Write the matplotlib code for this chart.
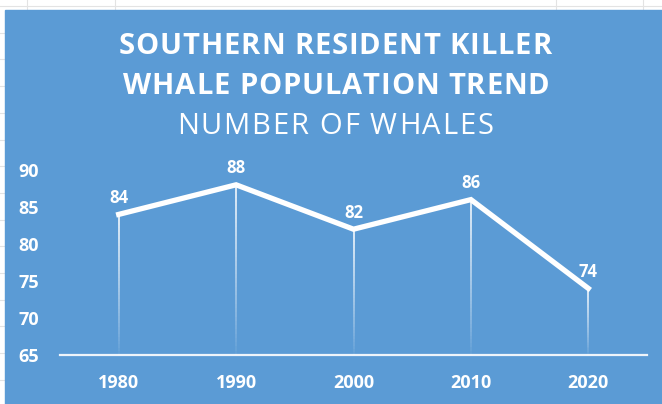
import matplotlib.pyplot as plt
import matplotlib.patches as patches
from matplotlib.lines import Line2D
from matplotlib.font_manager import FontProperties, findfont, get_font
import numpy as np

years = ["1980", "1990", "2000", "2010", "2020"]
whales = [84, 88, 82, 86, 74]
y_ticks = [65, 70, 75, 80, 85, 90]

BLUE = "#5B9BD5"
W, H = 662, 404
DPI = 100

plt.rcParams['font.family'] = ['Open Sans', 'DejaVu Sans']


def spaced_text(fig, s, cx, cy, size, weight, tracking):
    # draw text char by char so the letters can be spread out
    prop = FontProperties(family="Open Sans", weight=weight, size=size)
    font = get_font(findfont(prop))
    font.set_size(size, DPI)
    adv = [font.load_char(ord(c)).linearHoriAdvance / 65536 for c in s]
    total = sum(adv) + tracking * (len(s) - 1)
    xpos = cx - total / 2
    for c, a in zip(s, adv):
        fig.text(xpos / W, 1 - cy / H, c, ha="left", va="center", color="white",
                 fontproperties=prop)
        xpos += a + tracking


fig = plt.figure(figsize=(W / DPI, H / DPI), dpi=DPI)
fig.patch.set_facecolor("white")

# faint spreadsheet gridlines behind the chart
for yy in np.arange(6, H, 26.7):
    fig.add_artist(Line2D([0, 1], [1 - yy / H] * 2, color="#E3E3E3", lw=0.8, zorder=0))
for xx in [27, 115, 556, 643]:
    fig.add_artist(Line2D([xx / W] * 2, [0, 1], color="#E3E3E3", lw=0.8, zorder=0))

# blue chart area
fig.add_artist(patches.Rectangle((5 / W, 0), 1, (H - 10) / H,
                                 transform=fig.transFigure, color=BLUE, zorder=1))

ax = fig.add_axes([60 / W, 49 / H, 587 / W, 185 / H])
ax.set_facecolor("none")
ax.set_zorder(2)

x = np.arange(len(years))

# fading drop lines
n = 40
for xi, v in zip(x, whales):
    edges = np.linspace(v, 65, n + 1)
    for k in range(n):
        a = 0.95 * (1 - k / n) ** 0.8
        ax.plot([xi, xi], [edges[k], edges[k + 1]], color="white", lw=1.2,
                alpha=a, solid_capstyle="butt", zorder=2)

ax.plot(x, whales, color="white", lw=3.8, solid_joinstyle="miter", zorder=3)

for xi, v in zip(x, whales):
    ax.annotate(str(v), (xi, v), xytext=(0, 12), textcoords="offset points",
                ha="center", va="center", color="white", fontsize=12,
                fontweight="bold")

ax.set_xlim(-0.5, len(years) - 0.5)
ax.set_ylim(65, 90)
ax.set_yticks(y_ticks)
ax.set_xticks(x)
ax.set_xticklabels(years)
for s in ["top", "right", "left"]:
    ax.spines[s].set_visible(False)
ax.spines["bottom"].set_color("white")
ax.spines["bottom"].set_linewidth(1.6)
ax.spines["bottom"].set_alpha(0.9)
ax.tick_params(length=0, colors="white", labelsize=13)
ax.tick_params(axis="x", pad=14)
ax.tick_params(axis="y", pad=30)
for lab in ax.get_xticklabels() + ax.get_yticklabels():
    lab.set_fontweight("bold")
for lab in ax.get_yticklabels():
    lab.set_horizontalalignment("left")

spaced_text(fig, "SOUTHERN RESIDENT KILLER", 335, 46, 21, "bold", 0.9)
spaced_text(fig, "WHALE POPULATION TREND", 336, 86, 21, "bold", 0.9)
spaced_text(fig, "NUMBER OF WHALES", 335, 126, 21, "normal", 1.8)

fig.savefig("out.png", dpi=DPI, facecolor=fig.get_facecolor())
